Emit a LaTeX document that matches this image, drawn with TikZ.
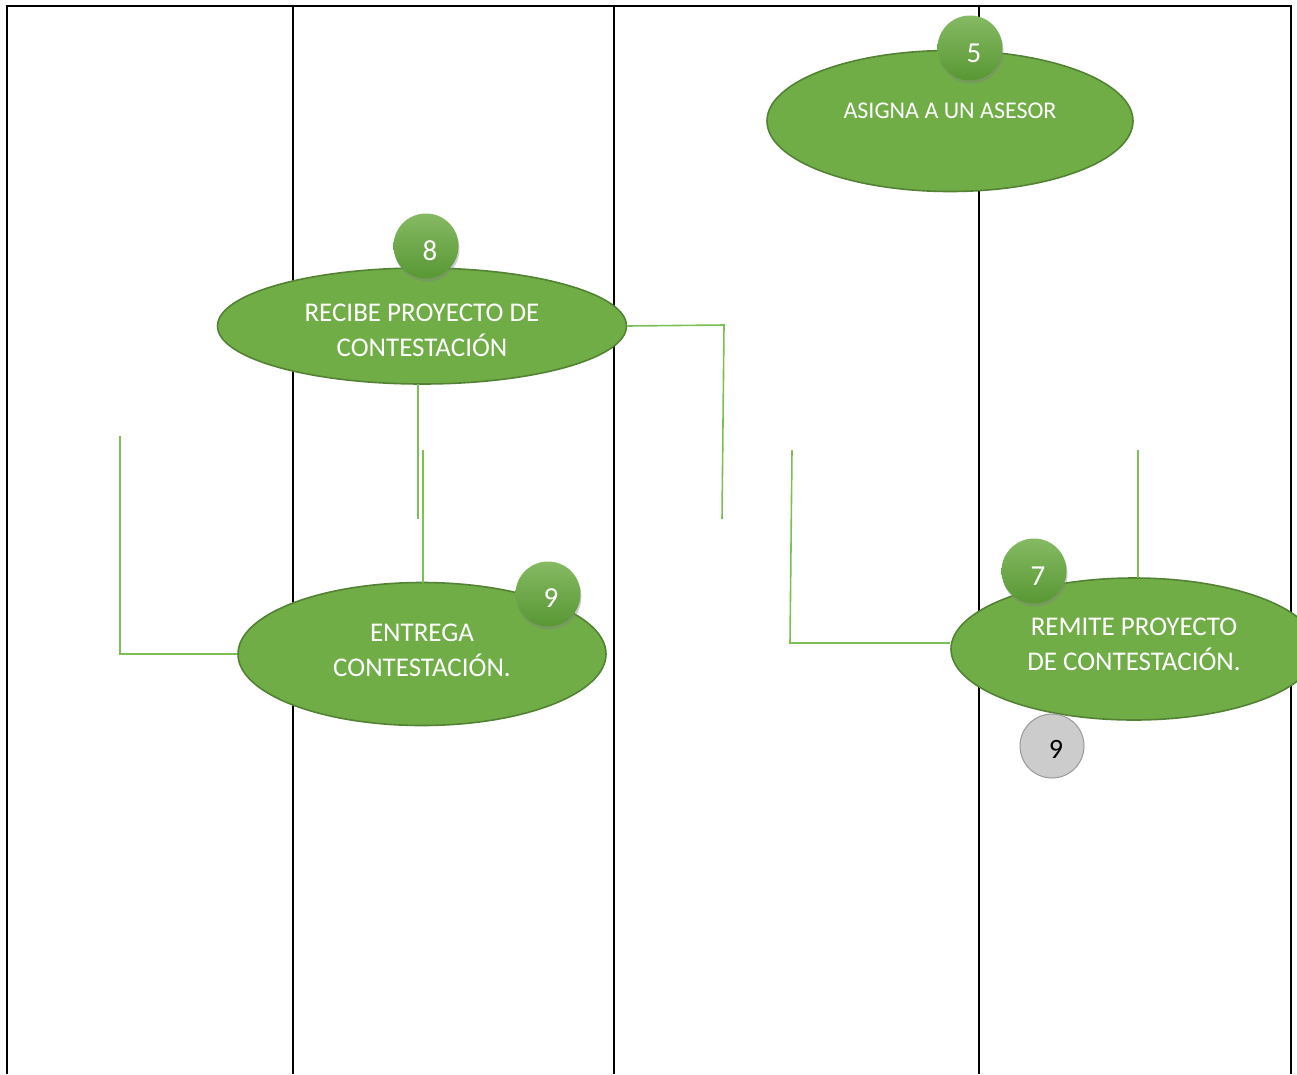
\documentclass[tikz,border=0pt]{standalone}
\usepackage{fontspec}
\setmainfont{Carlito}
\usetikzlibrary{shapes.geometric,shadows}
\definecolor{gfill}{HTML}{70AD47}
\definecolor{gdark}{HTML}{548235}
\definecolor{gline}{HTML}{7CBF55}
\definecolor{gbadge}{HTML}{62A83A}
\tikzset{
  lane/.style={line width=2pt, black},
  oval/.style={ellipse, draw=gdark, line width=1.6pt, fill=gfill, inner sep=0pt},
  otext/.style={text=white, font=\fontsize{24}{35}\selectfont, align=center},
  otextb/.style={text=white, font=\fontsize{27}{35}\selectfont, align=center},
  badge/.style={circle, minimum size=65pt, inner sep=0pt, top color=gfill!85!white, bottom color=gbadge!90!black, draw=none, drop shadow={shadow xshift=1pt, shadow yshift=-3pt, opacity=0.4}},
  digit/.style={text=white, font=\fontsize{29}{30}\selectfont},
  gbadgegray/.style={circle, minimum size=64pt, inner sep=0pt, fill=black!20, draw=black!40, line width=1pt},
  gdigit/.style={text=black, font=\fontsize{28}{30}\selectfont},
  conn/.style={gline, line width=1.6pt}
}
\begin{document}
\begin{tikzpicture}[x=1pt,y=-1pt]
\useasboundingbox (0,0) rectangle (1297,1074);
\clip (0,0) rectangle (1297,1074);
% lanes
\draw[lane] (7,1074) -- (7,6) -- (1291,6) -- (1291,1074);
\draw[lane] (293,6) -- (293,1074);
\draw[lane] (614,6) -- (614,1074);
\draw[lane] (979,6) -- (979,1074);
% ellipses
\node[oval, minimum width=366pt, minimum height=141pt] (asigna) at (950,121) {};
\node[otext] (asignat) at (950,111) {ASIGNA A UN ASESOR};
\node[oval, minimum width=409pt, minimum height=116pt] (recibe) at (422,326) {};
\node[otextb] (recibet) at (422,330) {RECIBE PROYECTO DE\\CONTESTACIÓN};
\node[oval, minimum width=368pt, minimum height=143pt] (entrega) at (422,654) {};
\node[otextb] (entregat) at (422,650) {ENTREGA\\CONTESTACIÓN.};
\node[oval, minimum width=366pt, minimum height=142pt] (remite) at (1134,649) {};
\node[otextb] (remitet) at (1134,644) {REMITE PROYECTO\\DE CONTESTACIÓN.};
% badges
\node[badge] (b5) at (970,48) {};
\node[digit] (b5t) at (974,53) {5};
\node[badge] (b8) at (426,246) {};
\node[digit] (b8t) at (430,251) {8};
\node[badge] (b9) at (548,594) {};
\node[digit] (b9t) at (551,598) {9};
\node[badge] (b7) at (1034,571) {};
\node[digit] (b7t) at (1038,576) {7};
\node[gbadgegray] (g9) at (1052,746) {};
\node[gdigit] (g9t) at (1056,749) {9};
% connector ends
\coordinate (c1) at (722,519);
\coordinate (c2) at (418,519);
\coordinate (c3) at (423,450);
\coordinate (c4) at (120,436);
\coordinate (c5) at (792,450);
\coordinate (c6) at (1138,450);
% connectors
\draw[conn] (recibe.east) -- (724,325) -- (c1);
\draw[conn] (418,384) -- (c2);
\draw[conn] (c3) -- (423,583);
\draw[conn] (c4) -- (120,654) -- (entrega.west);
\draw[conn] (c5) -- (790,643) -- (remite.west |- 0,643);
\draw[conn] (c6) -- (1138,578);
\end{tikzpicture}
\end{document}
